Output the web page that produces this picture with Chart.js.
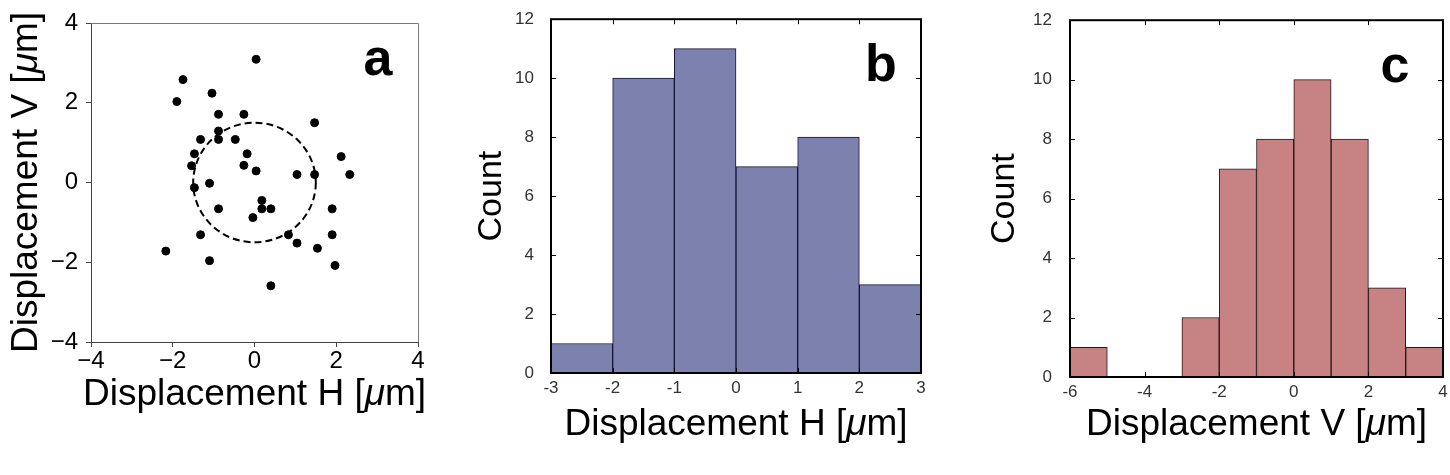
<!DOCTYPE html>
<html>
<head>
<meta charset="utf-8">
<script src="https://cdn.jsdelivr.net/npm/chart.js@4.4.1/dist/chart.umd.min.js"></script>
<style>
  body { margin: 0; background: #fff; width: 1450px; height: 475px; position: relative; overflow: hidden; }
  canvas { position: absolute; top: 0; }
</style>
</head>
<body>
<canvas id="scatterChart" width="450" height="475" style="left:0px"></canvas>
<canvas id="histHChart" width="510" height="475" style="left:450px"></canvas>
<canvas id="histVChart" width="490" height="475" style="left:960px"></canvas>
<script>
// panel a: displacement of each point [um]
const dispH = [0.04, -1.75, -1.90, -1.04, -0.88, -0.26, 1.47, -0.88, -1.32, -0.88, -0.47, -1.47, -0.18, 2.12, -1.54, -0.26, 0.04, 1.04, 1.47, 2.33, -1.10, -1.47, 0.18, -0.88, 0.18, 0.40, 1.90, -0.04, -1.32, 0.83, 1.90, 1.04, 1.54, -2.17, -1.10, 1.97, 0.40];
const dispV = [3.09, 2.58, 2.03, 2.24, 1.71, 1.71, 1.50, 1.29, 1.08, 1.08, 1.08, 0.72, 0.72, 0.65, 0.42, 0.43, 0.29, 0.20, 0.20, 0.20, -0.02, -0.13, -0.45, -0.66, -0.66, -0.66, -0.66, -0.88, -1.31, -1.31, -1.31, -1.52, -1.65, -1.72, -1.96, -2.08, -2.59];
const circleRadius = 1.5;

// panel b: histogram of H
const binEdgesH = [-3, -2, -1, 0, 1, 2, 3];
const countsH = [1, 10, 11, 7, 8, 3];

// panel c: histogram of V
const binEdgesV = [-6, -5, -4, -3, -2, -1, 0, 1, 2, 3, 4];
const countsV = [1, 0, 0, 2, 7, 8, 10, 8, 3, 1];

const FONT = "'Liberation Sans', Arial, sans-serif";
const TITLE_SIZE = 37;

const minusSign = v => (v < 0 ? "\u2212" + Math.abs(v) : String(v));

// axis title with an italic mu: "Displacement X [" + mu + "m]"
function drawUnitTitle(ctx, label, cx, cy, rotate) {
    const parts = [
        { t: "Displacement " + label + " [", it: false },
        { t: "\u03bc", it: true },
        { t: "m]", it: false }
    ];
    ctx.save();
    ctx.translate(cx, cy);
    if (rotate) ctx.rotate(-Math.PI / 2);
    ctx.fillStyle = "#000";
    ctx.textBaseline = "middle";
    ctx.textAlign = "left";
    let total = 0;
    parts.forEach(p => {
        ctx.font = (p.it ? "italic " : "") + TITLE_SIZE + "px " + FONT;
        p.w = ctx.measureText(p.t).width;
        total += p.w;
    });
    let x = -total / 2;
    parts.forEach(p => {
        ctx.font = (p.it ? "italic " : "") + TITLE_SIZE + "px " + FONT;
        ctx.fillText(p.t, x, 0);
        x += p.w;
    });
    ctx.restore();
}

/** dashed circle, frame, inward ticks, panel letter, axis titles */
const decorPlugin = {
    id: "decor",
    beforeDatasetsDraw(chart, args, opts) {
        const { ctx, scales } = chart;
        if (opts.circle) {
            const x = scales.x, y = scales.y;
            const cx = x.getPixelForValue(0), cy = y.getPixelForValue(0);
            const rx = x.getPixelForValue(circleRadius) - cx;
            const ry = cy - y.getPixelForValue(circleRadius);
            ctx.save();
            ctx.strokeStyle = "#000";
            ctx.lineWidth = 2;
            ctx.setLineDash([7, 4]);
            ctx.beginPath();
            ctx.ellipse(cx, cy, rx, ry, 0, 0, Math.PI * 2);
            ctx.stroke();
            ctx.restore();
        }
    },
    afterDraw(chart, args, opts) {
        const { ctx, chartArea: a, scales } = chart;
        ctx.save();
        if (opts.frame) {
            ctx.strokeStyle = "#000";
            ctx.lineWidth = 2;
            ctx.strokeRect(a.left, a.top, a.right - a.left, a.bottom - a.top);
            ctx.lineWidth = 1;
            ctx.beginPath();
            scales.x.ticks.forEach(t => {
                const px = Math.round(scales.x.getPixelForValue(t.value)) + 0.5;
                ctx.moveTo(px, a.bottom); ctx.lineTo(px, a.bottom - 5);
                ctx.moveTo(px, a.top); ctx.lineTo(px, a.top + 5);
            });
            scales.y.ticks.forEach(t => {
                const py = Math.round(scales.y.getPixelForValue(t.value)) + 0.5;
                ctx.moveTo(a.left, py); ctx.lineTo(a.left + 5, py);
                ctx.moveTo(a.right, py); ctx.lineTo(a.right - 5, py);
            });
            ctx.stroke();
        } else {
            // top / right spines of panel a
            ctx.strokeStyle = "#777";
            ctx.lineWidth = 1;
            ctx.beginPath();
            ctx.moveTo(a.left, a.top + 0.5); ctx.lineTo(a.right + 0.5, a.top + 0.5);
            ctx.lineTo(a.right + 0.5, a.bottom);
            ctx.stroke();
        }
        ctx.fillStyle = "#000";
        ctx.font = "bold 52px " + FONT;
        ctx.textAlign = "center";
        ctx.textBaseline = "alphabetic";
        ctx.fillText(opts.letter, a.right - opts.dx, a.top + opts.dy);
        ctx.restore();

        const midX = (a.left + a.right) / 2, midY = (a.top + a.bottom) / 2;
        drawUnitTitle(ctx, opts.xLabel, midX, opts.xTitleY, false);
        if (opts.yLabel) drawUnitTitle(ctx, opts.yLabel, opts.yTitleX, midY, true);
    }
};

function binCentres(edges) {
    return edges.slice(0, -1).map((e, i) => (e + edges[i + 1]) / 2);
}

/** scatter panel a */
new Chart(document.getElementById("scatterChart").getContext("2d"), {
    type: "scatter",
    data: {
        datasets: [{
            data: dispH.map((h, i) => ({ x: h, y: dispV[i] })),
            backgroundColor: "#000",
            borderColor: "#000",
            pointRadius: 4,
            pointHoverRadius: 4
        }]
    },
    options: {
        responsive: false, animation: false, devicePixelRatio: 1,
        layout: { padding: { top: 23, right: 32, left: 0, bottom: 0 } },
        plugins: { legend: { display: false }, tooltip: { enabled: false },
            decor: { letter: "a", dx: 40, dy: 52, circle: true, xLabel: "H", xTitleY: 395, yLabel: "V", yTitleX: 27 } },
        scales: {
            x: {
                type: "linear", min: -4, max: 4,
                afterFit: s => { s.height = 133; },
                ticks: { stepSize: 2, callback: minusSign, color: "#000", padding: 0, font: { family: FONT, size: 24 }, maxRotation: 0 },
                grid: { drawOnChartArea: false, tickLength: 5, color: "#444" },
                border: { color: "#444", width: 1 }
            },
            y: {
                type: "linear", min: -4, max: 4,
                afterFit: s => { s.width = 91; },
                ticks: { stepSize: 2, callback: minusSign, color: "#000", padding: 8, font: { family: FONT, size: 24 } },
                grid: { drawOnChartArea: false, tickLength: 5, color: "#444" },
                border: { color: "#444", width: 1 }
            }
        }
    },
    plugins: [decorPlugin]
});

/** histogram panels b and c */
function makeHist(canvasId, edges, counts, fill, edge, xStep, geo) {
    const centres = binCentres(edges);
    return new Chart(document.getElementById(canvasId).getContext("2d"), {
        type: "bar",
        data: {
            datasets: [{
                data: centres.map((c, i) => ({ x: c, y: counts[i] })),
                backgroundColor: fill,
                borderColor: edge,
                borderWidth: 1,
                barPercentage: 1,
                categoryPercentage: 1
            }]
        },
        options: {
            responsive: false, animation: false, devicePixelRatio: 1,
            layout: { padding: { top: 13, right: geo.right, left: 0, bottom: 0 } },
            plugins: { legend: { display: false }, tooltip: { enabled: false },
                decor: { letter: geo.letter, dx: geo.dx, dy: 62, frame: true, xLabel: geo.xLabel, xTitleY: 425 } },
            scales: {
                x: {
                    type: "linear", min: edges[0], max: edges[edges.length - 1], offset: false,
                    afterFit: s => { s.height = geo.xh; },
                    ticks: { stepSize: xStep, color: "#333", padding: geo.xpad, font: { family: FONT, size: 17 }, maxRotation: 0 },
                    grid: { display: false, offset: false },
                    border: { display: false }
                },
                y: {
                    type: "linear", min: 0, max: 12,
                    afterFit: s => { s.width = geo.yw; },
                    ticks: { stepSize: 2, color: "#333", padding: geo.ypad, font: { family: FONT, size: 17 } },
                    grid: { display: false },
                    border: { display: false },
                    title: { display: true, text: "Count", color: "#000", font: { family: FONT, size: 34 }, padding: { top: geo.ytp, bottom: 0 } }
                }
            }
        },
        plugins: [decorPlugin]
    });
}

makeHist("histHChart", binEdgesH, countsH, "#7c81ad", "#14163a", 1,
    { right: 39, xh: 102, yw: 101, xpad: -3, ypad: 9, ytp: 21, letter: "b", dx: 40, xLabel: "H" });
makeHist("histVChart", binEdgesV, countsV, "#c78283", "#2a1414", 2,
    { right: 7, xh: 98, yw: 110, xpad: -3, ypad: 10, ytp: 24, letter: "c", dx: 48, xLabel: "V" });
</script>
</body>
</html>
